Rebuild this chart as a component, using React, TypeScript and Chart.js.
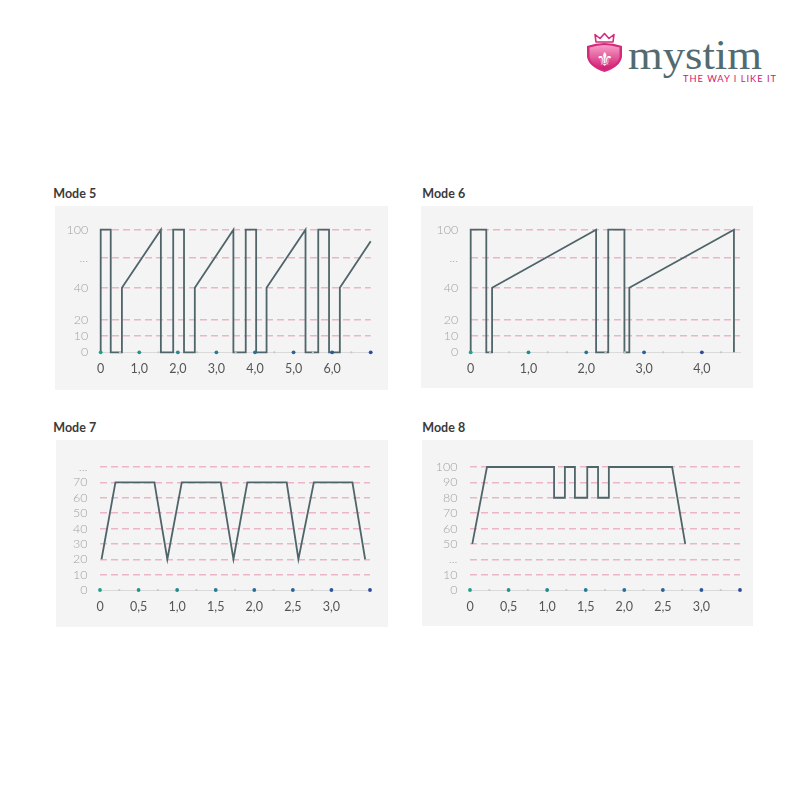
import React, { useEffect, useRef } from 'react';
import { Chart, registerables, LinearScale } from 'chart.js';

Chart.register(...registerables);

// ---------- data ----------
const mode5X = [0, 0, 0.26, 0.26, 0.55, 0.55, 1.56, 1.56, 1.88, 1.88, 2.16, 2.16, 2.44, 2.44, 3.44, 3.44, 3.76, 3.76, 4.03, 4.03, 4.3, 4.3, 5.31, 5.31, 5.64, 5.64, 5.92, 5.92, 6.2, 6.2, 7.0];
const mode5Y = [0, 100, 100, 0, 0, 40, 100, 0, 0, 100, 100, 0, 0, 40, 100, 0, 0, 100, 100, 0, 0, 40, 100, 0, 0, 100, 100, 0, 0, 40, 88];

const mode6X = [0, 0, 0.27, 0.27, 0.37, 0.37, 2.17, 2.17, 2.38, 2.38, 2.66, 2.66, 2.745, 2.745, 4.555, 4.555];
const mode6Y = [0, 100, 100, 0, 0, 40, 100, 0, 0, 100, 100, 0, 0, 40, 100, 0];

const mode7X = [0.02, 0.2, 0.705, 0.873, 1.06, 1.565, 1.73, 1.91, 2.42, 2.572, 2.772, 3.272, 3.437];
const mode7Y = [20, 70, 70, 20, 70, 70, 20, 70, 70, 20, 70, 70, 20];

const mode8X = [0.03, 0.22, 1.09, 1.09, 1.23, 1.23, 1.36, 1.36, 1.52, 1.52, 1.66, 1.66, 1.8, 1.8, 2.62, 2.79];
const mode8Y = [50, 100, 100, 80, 80, 100, 100, 80, 80, 100, 100, 80, 80, 100, 100, 50];

const mode5XTicks = [0, 1, 2, 3, 4, 5, 6, 7];
const mode5XLabels = ['0', '1,0', '2,0', '3,0', '4,0', '5,0', '6,0', ''];
const mode6XTicks = [0, 1, 2, 3, 4];
const mode6XLabels = ['0', '1,0', '2,0', '3,0', '4,0'];
const mode78XTicks = [0, 0.5, 1, 1.5, 2, 2.5, 3, 3.5];
const mode78XLabels = ['0', '0,5', '1,0', '1,5', '2,0', '2,5', '3,0', ''];

const mode56YTicks = [0, 10, 20, 40, 71, 100];
const mode56YLabels = ['0', '10', '20', '40', '...', '100'];
const mode7YTicks = [0, 10, 20, 30, 40, 50, 60, 70, 80];
const mode7YLabels = ['0', '10', '20', '30', '40', '50', '60', '70', '...'];
const mode8YTicks = [0, 10, 30, 50, 60, 70, 80, 90, 100];
const mode8YLabels = ['0', '10', '...', '50', '60', '70', '80', '90', '100'];

// broken-axis breakpoints: [real value, axis position]
const mode56Breaks = [[0, 0], [40, 40], [100, 76]];
const mode7Breaks = [[0, 0], [80, 80]];
const mode8Breaks = [[0, 0], [10, 10], [50, 30], [100, 80]];

// ---------- broken y scale ----------
function piecewise(pairs: number[][], v: number, a: number, b: number) {
  for (let i = 1; i < pairs.length; i++) {
    const p0 = pairs[i - 1];
    const p1 = pairs[i];
    if (v <= p1[a] || i === pairs.length - 1) {
      return p0[b] + ((v - p0[a]) * (p1[b] - p0[b])) / (p1[a] - p0[a]);
    }
  }
  return v;
}

function makeBrokenScale(scaleId: string, breaks: number[][]) {
  class BrokenScale extends LinearScale {
    static id = scaleId;
    getPixelForValue(value: number) {
      return super.getPixelForValue(piecewise(breaks, value, 0, 1));
    }
    getValueForPixel(pixel: number) {
      return piecewise(breaks, super.getValueForPixel(pixel) as number, 1, 0);
    }
  }
  return BrokenScale;
}

Chart.register(
  makeBrokenScale('broken56', mode56Breaks) as any,
  makeBrokenScale('broken7', mode7Breaks) as any,
  makeBrokenScale('broken8', mode8Breaks) as any
);

// ---------- styling helpers ----------
const TEAL = [32, 160, 138];
const BLUE = [45, 76, 160];
function mix(f: number) {
  const c = TEAL.map((t, i) => Math.round(t + (BLUE[i] - t) * f));
  return `rgb(${c[0]},${c[1]},${c[2]})`;
}
const near = (a: number, b: number) => Math.abs(a - b) < 1e-6;

function makeAxisDots(majors: number[]) {
  return {
    id: 'axisDots',
    afterDatasetsDraw(chart: any) {
      const xs = chart.scales.x;
      const ys = chart.scales.y;
      const ctx = chart.ctx;
      const py = ys.getPixelForValue(0);
      xs.ticks.forEach((t: any) => {
        const px = xs.getPixelForValue(t.value);
        const mi = majors.findIndex((m) => near(m, t.value));
        ctx.save();
        ctx.beginPath();
        if (mi >= 0) {
          ctx.fillStyle = mix(majors.length > 1 ? mi / (majors.length - 1) : 0);
          ctx.arc(px, py, 1.9, 0, Math.PI * 2);
        } else {
          ctx.fillStyle = '#c6c6c6';
          ctx.arc(px, py, 1.1, 0, Math.PI * 2);
        }
        ctx.fill();
        ctx.restore();
      });
    },
  };
}

type Cfg = {
  xs: number[];
  ys: number[];
  xTicks: number[];
  xLabels: string[];
  xMax: number;
  xSub: number;
  yTicks: number[];
  yLabels: string[];
  yType: string;
  yMax: number;
  panel: { left: number; top: number; w: number; h: number };
  inset: { left: number; top: number; right: number; bottom: number };
};

const charts: Cfg[] = [
  {
    xs: mode5X, ys: mode5Y, xTicks: mode5XTicks, xLabels: mode5XLabels, xMax: 7, xSub: 2,
    yTicks: mode56YTicks, yLabels: mode56YLabels, yType: 'broken56', yMax: 76,
    panel: { left: 55, top: 206, w: 333, h: 184 },
    inset: { left: 45.7, top: 23.7, right: 17.3, bottom: 37.7 },
  },
  {
    xs: mode6X, ys: mode6Y, xTicks: mode6XTicks, xLabels: mode6XLabels, xMax: 4.66, xSub: 3,
    yTicks: mode56YTicks, yLabels: mode56YLabels, yType: 'broken56', yMax: 76,
    panel: { left: 421, top: 206, w: 332, h: 182 },
    inset: { left: 49.7, top: 23.7, right: 13, bottom: 35.7 },
  },
  {
    xs: mode7X, ys: mode7Y, xTicks: mode78XTicks, xLabels: mode78XLabels, xMax: 3.5, xSub: 2,
    yTicks: mode7YTicks, yLabels: mode7YLabels, yType: 'broken7', yMax: 80,
    panel: { left: 56, top: 440, w: 332, h: 187 },
    inset: { left: 44, top: 27, right: 18, bottom: 37 },
  },
  {
    xs: mode8X, ys: mode8Y, xTicks: mode78XTicks, xLabels: mode78XLabels, xMax: 3.5, xSub: 2,
    yTicks: mode8YTicks, yLabels: mode8YLabels, yType: 'broken8', yMax: 80,
    panel: { left: 422, top: 440, w: 331, h: 186 },
    inset: { left: 48, top: 27, right: 13, bottom: 36 },
  },
];

const titles = [
  { text: 'Mode 5', x: 53.3, y: 198.3 },
  { text: 'Mode 6', x: 422.3, y: 198.3 },
  { text: 'Mode 7', x: 53.3, y: 432.3 },
  { text: 'Mode 8', x: 422.3, y: 432.3 },
];

function ModeChart({ cfg }: { cfg: Cfg }) {
  const ref = useRef<HTMLCanvasElement>(null);
  useEffect(() => {
    const step = (cfg.xTicks[1] - cfg.xTicks[0]) / cfg.xSub;
    const chart = new Chart(ref.current as HTMLCanvasElement, {
      type: 'line',
      data: {
        datasets: [
          {
            data: cfg.xs.map((x, i) => ({ x, y: cfg.ys[i] })),
            borderColor: '#4f6569',
            borderWidth: 1.8,
            pointRadius: 0,
            tension: 0,
            fill: false,
            borderJoinStyle: 'miter',
            clip: false as any,
          },
        ],
      },
      options: {
        animation: false,
        responsive: false,
        events: [],
        layout: { padding: { left: 0, top: cfg.inset.top, right: cfg.inset.right, bottom: 0 } },
        plugins: { legend: { display: false }, tooltip: { enabled: false } },
        scales: {
          x: {
            type: 'linear',
            min: 0,
            max: cfg.xMax,
            bounds: 'data',
            afterBuildTicks: (s: any) => {
              const t: any[] = [];
              for (let k = 0; k * step <= cfg.xMax + 1e-6; k++) t.push({ value: Math.round(k * step * 1e6) / 1e6 });
              s.ticks = t;
            },
            afterFit: (s: any) => {
              s.height = cfg.inset.bottom;
            },
            grid: { display: false, drawTicks: false },
            border: { display: true, color: '#dadada', width: 1 },
            ticks: {
              autoSkip: false,
              maxRotation: 0,
              padding: 9.5,
              color: '#555555',
              font: { family: 'Lato', size: 12.5 },
              callback: (v: any) => {
                const i = cfg.xTicks.findIndex((m) => near(m, Number(v)));
                return i >= 0 ? cfg.xLabels[i] : '';
              },
            },
          },
          y: {
            type: cfg.yType as any,
            min: 0,
            max: cfg.yMax,
            bounds: 'data',
            afterBuildTicks: (s: any) => {
              s.ticks = cfg.yTicks.map((v) => ({ value: v }));
            },
            afterFit: (s: any) => {
              s.width = cfg.inset.left;
            },
            grid: {
              drawTicks: false,
              lineWidth: 1.5,
              color: (c: any) => (c.tick && c.tick.value === 0 ? 'rgba(0,0,0,0)' : '#ecb4c8'),
            },
            border: { display: false, dash: [7, 4] },
            ticks: {
              autoSkip: false,
              padding: 12.5,
              color: '#a3a3a3',
              font: { family: 'Lato', size: 12.5, weight: 300 as any },
              callback: (v: any) => {
                const i = cfg.yTicks.findIndex((m) => near(m, Number(v)));
                return i >= 0 ? cfg.yLabels[i] : '';
              },
            },
          } as any,
        },
      } as any,
      plugins: [makeAxisDots(cfg.xTicks) as any],
    });
    return () => chart.destroy();
  }, [cfg]);
  return (
    <div
      style={{
        position: 'absolute',
        left: cfg.panel.left,
        top: cfg.panel.top,
        width: cfg.panel.w,
        height: cfg.panel.h,
        background: '#f4f4f4',
      }}
    >
      <canvas
        ref={ref}
        width={cfg.panel.w}
        height={cfg.panel.h}
        style={{ display: 'block', width: cfg.panel.w, height: cfg.panel.h }}
      />
    </div>
  );
}

export default function App() {
  return (
    <div style={{ position: 'absolute', left: 0, top: 0, width: 800, height: 800, background: '#ffffff', overflow: 'hidden' }}>
      <svg width={800} height={800} style={{ position: 'absolute', left: 0, top: 0 }}>
        <defs>
          <linearGradient id="shieldG" x1="0" y1="0" x2="0" y2="1">
            <stop offset="0" stopColor="#f59ec8" />
            <stop offset="1" stopColor="#d21a6f" />
          </linearGradient>
        </defs>
        <path
          d="M596,42 L595,34.5 L600,38.5 L604.5,33.5 L609,38.5 L614,34.5 L613,42 Z"
          fill="#ffffff"
          stroke="#d42a7c"
          strokeWidth={1.6}
          strokeLinejoin="round"
        />
        <path d="M587,46 Q604.5,40 622,46 L622,57 Q620,67 604.5,72 Q589,67 587,57 Z" fill="#d42a7c" />
        <path d="M589.5,47.6 Q604.5,42.6 619.5,47.6 L619.5,57 Q618,65.5 604.5,69.5 Q591,65.5 589.5,57 Z" fill="url(#shieldG)" />
        <text x={604.5} y={66} textAnchor="middle" fontFamily="DejaVu Sans" fontSize={19} fill="#ffffff">
          ⚜
        </text>
        <text x={628} y={69} fontFamily="Liberation Serif" fontSize={42} fill="#536b70" textLength={134} lengthAdjust="spacingAndGlyphs">
          mystim
        </text>
        <text x={683} y={81.7} fontFamily="Lato" fontWeight={400} fontSize={9.3} fill="#d3166d" textLength={93} lengthAdjust="spacing">
          THE WAY I LIKE IT
        </text>
        {titles.map((t) => (
          <text key={t.text} x={t.x} y={t.y} fontFamily="Lato" fontWeight={700} fontSize={12.5} fill="#3a3a3a">
            {t.text}
          </text>
        ))}
      </svg>
      {charts.map((c, i) => (
        <ModeChart key={i} cfg={c} />
      ))}
    </div>
  );
}
